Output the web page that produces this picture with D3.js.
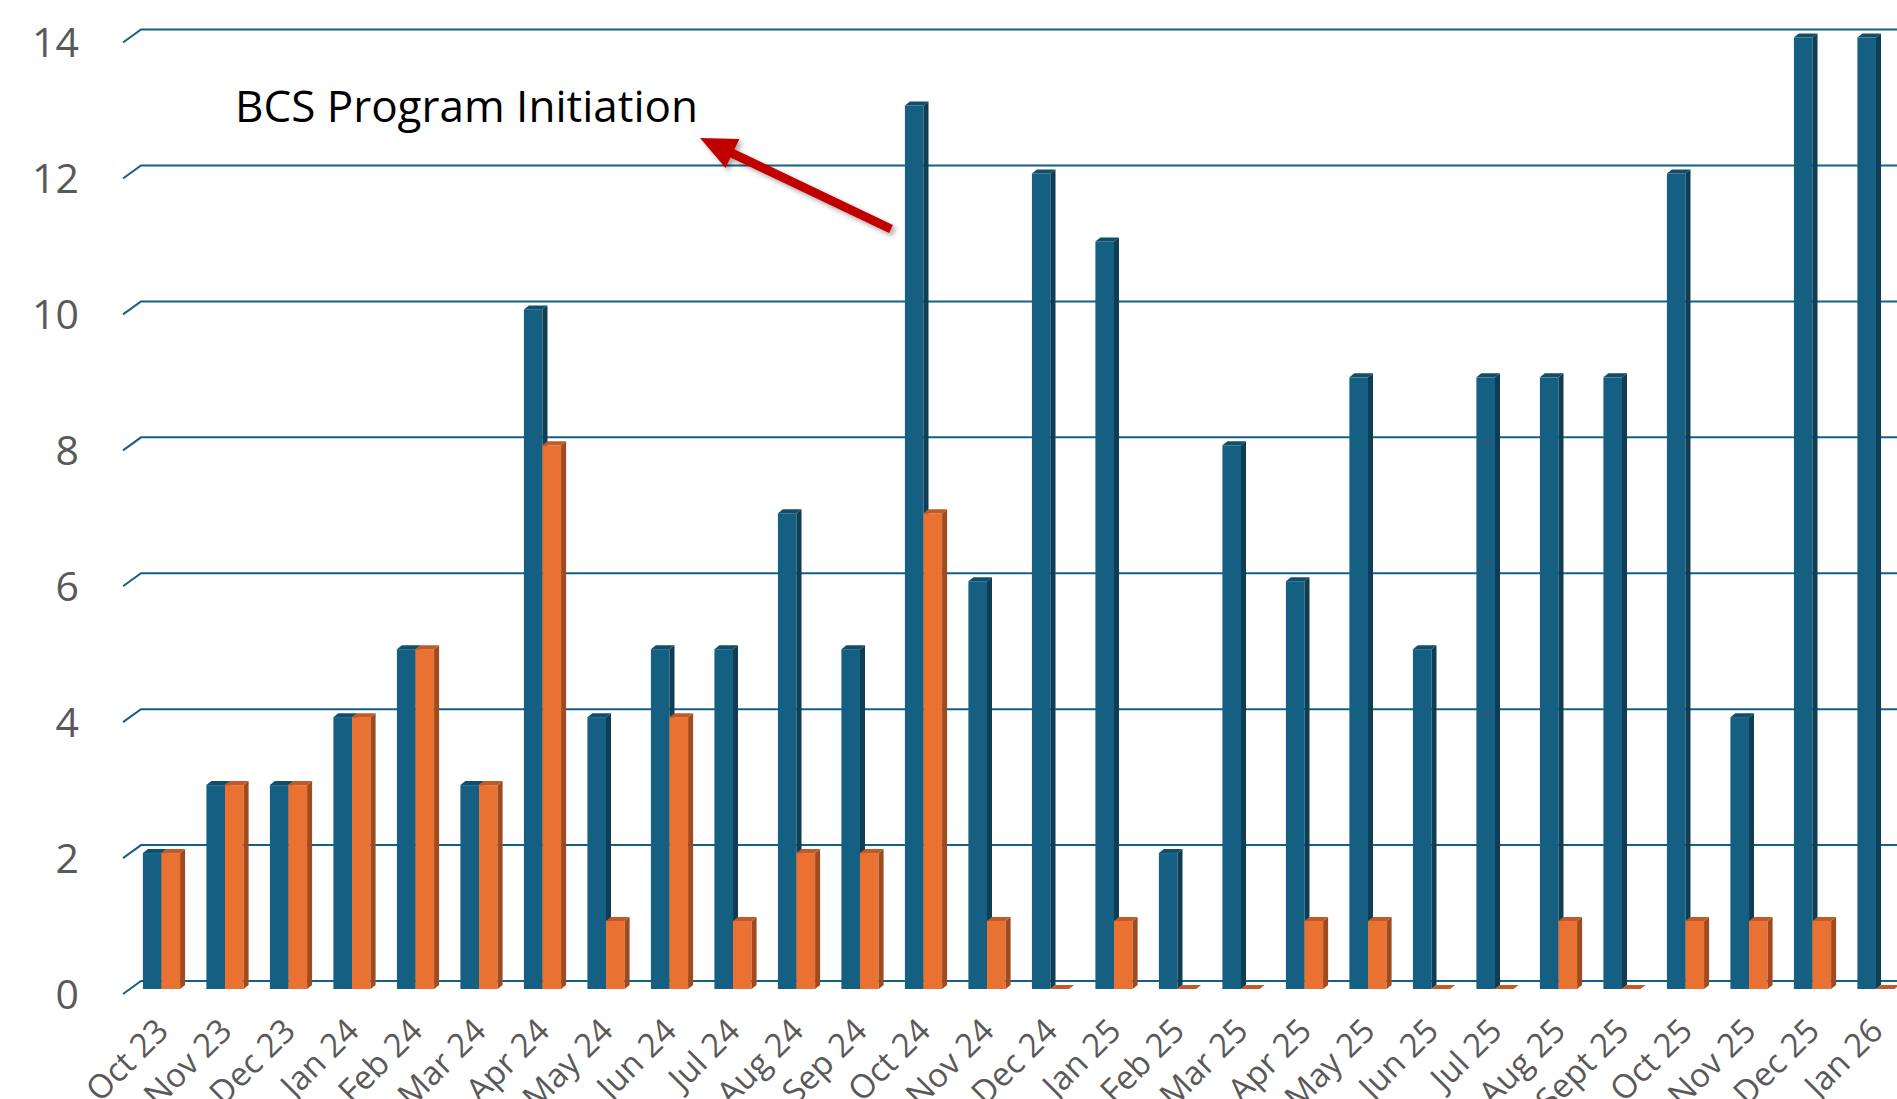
<!DOCTYPE html>
<html>
<head>
<meta charset="utf-8">
<script src="https://cdn.jsdelivr.net/npm/d3@7"></script>
<style>
  html, body { margin: 0; padding: 0; background: #fff; overflow: hidden; }
  svg { display: block; }
</style>
</head>
<body>
<svg id="chart" width="1897" height="1099"></svg>
<script>
const categories = ["Oct 23","Nov 23","Dec 23","Jan 24","Feb 24","Mar 24","Apr 24","May 24","Jun 24","Jul 24","Aug 24","Sep 24","Oct 24","Nov 24","Dec 24","Jan 25","Feb 25","Mar 25","Apr 25","May 25","Jun 25","Jul 25","Aug 25","Sept 25","Oct 25","Nov 25","Dec 25","Jan 26"];
const seriesBlue = [2,3,3,4,5,3,10,4,5,5,7,5,13,6,12,11,2,8,6,9,5,9,9,9,12,4,14,14];
const seriesOrange = [2,3,3,4,5,3,8,1,4,1,2,2,7,1,0,1,0,0,1,1,0,0,1,0,1,1,1,0];
const yTicks = [0,2,4,6,8,10,12,14];
const annotationText = "BCS Program Initiation";

const svg = d3.select("#chart");
const W = 1897, H = 1099;

const x = d3.scaleBand().domain(categories).range([129.75, 129.75 + 28 * 63.5]).padding(0);
const y = d3.scaleLinear().domain([0, 14]).range([989, 989 - 14 * 67.96]);

const barW = 18.6, dX = 5, dY = -4;
const wallBackDy = -8, wallFrontDy = 5;
const wallFrontX = 123, wallBackX = 141;

const defs = svg.append("defs");
const f = defs.append("filter").attr("id", "shadow").attr("x", "-20%").attr("y", "-20%").attr("width", "140%").attr("height", "140%");
f.append("feDropShadow").attr("dx", 3).attr("dy", 3).attr("stdDeviation", 2.5).attr("flood-color", "#000").attr("flood-opacity", 0.35);

// gridlines
const grid = svg.append("g");
yTicks.forEach(t => {
  const yb = y(t) + wallBackDy;
  grid.append("path")
    .attr("d", `M${wallFrontX},${y(t) + wallFrontDy}L${wallBackX},${yb}L${W},${yb}`)
    .attr("fill", "none").attr("stroke", "#156082").attr("stroke-width", 2);
});

// y tick labels
svg.append("g").selectAll("text").data(yTicks).join("text")
  .attr("x", 79).attr("y", d => y(d) + wallFrontDy)
  .attr("dy", "0.36em")
  .attr("text-anchor", "end")
  .attr("font-family", "'Open Sans', sans-serif")
  .attr("font-size", 41)
  .attr("fill", "#595959")
  .text(d => d);

// bars
const colors = {
  blue: { front: "#156082", side: "#0f3e54", top: "#114e6a" },
  orange: { front: "#e97132", side: "#a04a20", top: "#c25a27" }
};
const bars = svg.append("g");
function drawBar(x0, v, c) {
  const yt = y(v), yb = y(0);
  const g = bars.append("g");
  if (v > 0) {
    g.append("rect").attr("x", x0).attr("y", yt).attr("width", barW).attr("height", yb - yt).attr("fill", c.front);
    g.append("path").attr("d", `M${x0 + barW},${yb}L${x0 + barW + dX},${yb + dY}L${x0 + barW + dX},${yt + dY}L${x0 + barW},${yt}Z`).attr("fill", c.side);
  }
  g.append("path").attr("d", `M${x0},${yt}L${x0 + dX},${yt + dY}L${x0 + barW + dX},${yt + dY}L${x0 + barW},${yt}Z`).attr("fill", c.top);
}
categories.forEach((cat, i) => {
  const cx = x(cat) + x.bandwidth() / 2;
  drawBar(cx - barW, seriesBlue[i], colors.blue);
  drawBar(cx, seriesOrange[i], colors.orange);
});

// x tick labels
svg.append("g").selectAll("text").data(categories).join("text")
  .attr("transform", d => `translate(${x(d) + x.bandwidth() / 2 - 8},${1016}) rotate(-45)`)
  .attr("dy", "0.72em")
  .attr("text-anchor", "end")
  .attr("font-family", "'Open Sans', sans-serif")
  .attr("font-size", 33)
  .attr("fill", "#595959")
  .text(d => d);

// annotation
svg.append("text")
  .attr("x", 235).attr("y", 122)
  .attr("font-family", "'Open Sans', sans-serif")
  .attr("font-size", 44)
  .attr("fill", "#000")
  .text(annotationText);

// arrow
const tail = [891, 229], tip = [700, 138];
const ang = Math.atan2(tip[1] - tail[1], tip[0] - tail[0]);
const headLen = 36, headHalf = 16;
const bx = tip[0] - headLen * Math.cos(ang), by = tip[1] - headLen * Math.sin(ang);
const px = -Math.sin(ang), py = Math.cos(ang);
const arrow = svg.append("g").attr("filter", "url(#shadow)");
arrow.append("line")
  .attr("x1", tail[0]).attr("y1", tail[1]).attr("x2", bx + 6 * Math.cos(ang)).attr("y2", by + 6 * Math.sin(ang))
  .attr("stroke", "#c00000").attr("stroke-width", 9);
arrow.append("path")
  .attr("d", `M${tip[0]},${tip[1]}L${bx + headHalf * px},${by + headHalf * py}L${bx - headHalf * px},${by - headHalf * py}Z`)
  .attr("fill", "#c00000");
</script>
</body>
</html>
